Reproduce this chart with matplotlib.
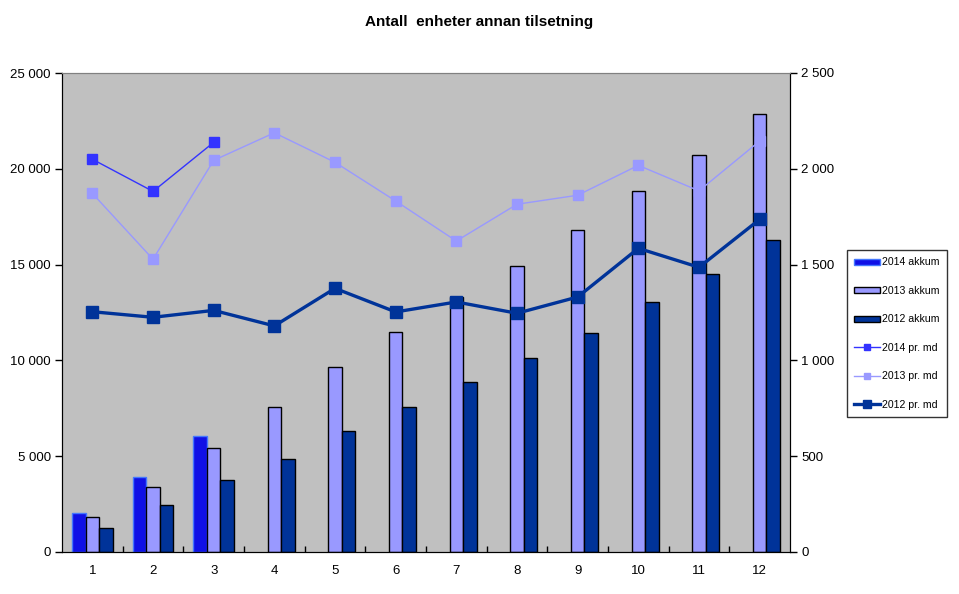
import numpy as np
import matplotlib.pyplot as plt
from matplotlib.patches import Patch
from matplotlib.lines import Line2D
from matplotlib.ticker import FuncFormatter

plt.rcParams['font.family'] = ['Liberation Sans', 'DejaVu Sans']

months = [1, 2, 3, 4, 5, 6, 7, 8, 9, 10, 11, 12]

# akkumulert (venstre akse)
akkum_2014 = [2020, 3900, 6040]
akkum_2013 = [1810, 3380, 5410, 7570, 9660, 11480, 13310, 14910, 16790, 18840, 20700, 22840]
akkum_2012 = [1240, 2440, 3740, 4850, 6320, 7570, 8870, 10110, 11410, 13030, 14490, 16270]

# per maaned (hoyre akse)
md_2014 = [2050, 1882, 2138]
md_2013 = [1872, 1528, 2044, 2188, 2034, 1832, 1623, 1815, 1862, 2018, 1885, 2145]
md_2012 = [1254, 1225, 1261, 1180, 1376, 1253, 1305, 1246, 1331, 1585, 1486, 1736]

c14 = '#1010E6'
c14_line = '#3333FF'
c13 = '#9999FF'
c12 = '#003399'


def space_thousands(v, pos):
    return f'{int(v):,}'.replace(',', ' ')


fig = plt.figure(figsize=(9.59, 5.94), dpi=100)
ax = fig.add_axes([62 / 959, 1 - 552 / 594, 728 / 959, 479 / 594])
ax2 = ax.twinx()

x = np.array(months)
w = 1 / 4.5
ax.bar(x[:3] - w, akkum_2014, w, color=c14, edgecolor='#4477FF', linewidth=1)
ax.bar(x, akkum_2013, w, color=c13, edgecolor='black', linewidth=1)
ax.bar(x + w, akkum_2012, w, color=c12, edgecolor='black', linewidth=1)

ax2.plot(x[:3], md_2014, color=c14_line, lw=1, marker='s', ms=6.5, mec=c14_line)
ax2.plot(x, md_2013, color=c13, lw=1, marker='s', ms=6.5, mec=c13)
ax2.plot(x, md_2012, color=c12, lw=2.4, marker='s', ms=8, mec=c12)

ax.set_facecolor('#C0C0C0')
ax.set_xlim(0.5, 12.5)
ax.set_ylim(0, 25000)
ax2.set_ylim(0, 2500)
ax.set_yticks(np.arange(0, 25001, 5000))
ax2.set_yticks(np.arange(0, 2501, 500))
ax.yaxis.set_major_formatter(FuncFormatter(space_thousands))
ax2.yaxis.set_major_formatter(FuncFormatter(space_thousands))

ax.set_xticks(months)
ax.set_xticks(np.arange(1.5, 12, 1), minor=True)
ax.tick_params(axis='x', which='major', length=0, labelsize=9.5, pad=9)
ax.tick_params(axis='x', which='minor', direction='in', length=4, width=1)
ax.tick_params(axis='y', direction='out', length=5, width=1, labelsize=9.5, pad=3)
ax2.tick_params(axis='y', direction='out', length=5, width=1, labelsize=9.5, pad=3)

for a in (ax, ax2):
    a.spines['top'].set_color('#808080')
    a.spines['left'].set_color('black')
    a.spines['right'].set_color('black')
    a.spines['bottom'].set_color('black')

fig.suptitle('Antall  enheter annan tilsetning', y=1 - 22 / 594, fontsize=11,
             fontweight='bold', va='center')

handles = [
    Patch(facecolor=c14, edgecolor='#4477FF', label='2014 akkum'),
    Patch(facecolor=c13, edgecolor='black', label='2013 akkum'),
    Patch(facecolor=c12, edgecolor='black', label='2012 akkum'),
    Line2D([], [], color=c14_line, lw=1, marker='s', ms=5, label='2014 pr. md'),
    Line2D([], [], color=c13, lw=1, marker='s', ms=5, label='2013 pr. md'),
    Line2D([], [], color=c12, lw=2.4, marker='s', ms=6, label='2012 pr. md'),
]
leg = fig.legend(handles=handles, loc='upper left', bbox_to_anchor=(847 / 959, 1 - 250 / 594),
                 fontsize=7.6, frameon=True, fancybox=False, edgecolor='black',
                 labelspacing=1.75, handlelength=2.4, handleheight=0.5, handletextpad=0.2,
                 borderpad=0.7, borderaxespad=0)
leg.get_frame().set_linewidth(1)

fig.savefig('out.png', dpi=100)
